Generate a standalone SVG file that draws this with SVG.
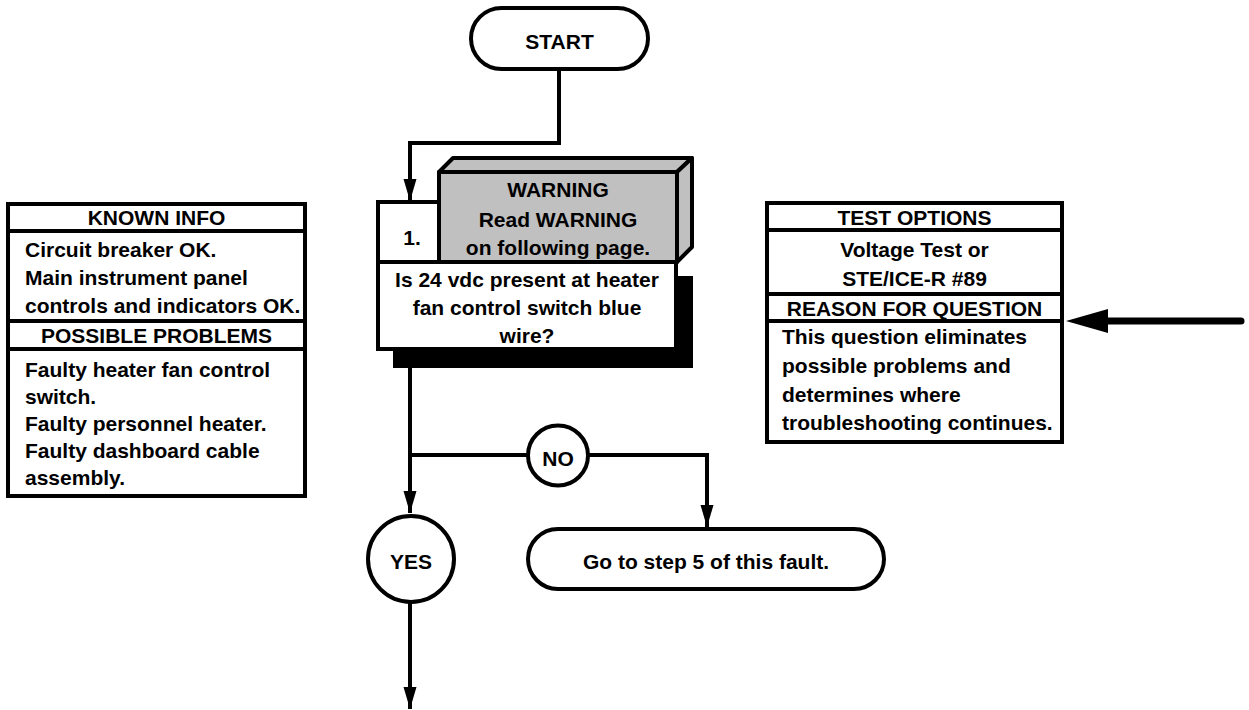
<svg xmlns="http://www.w3.org/2000/svg" width="1249" height="710" viewBox="0 0 1249 710">
<defs>
<style>
text{font-family:"Liberation Sans",Arial,sans-serif;font-weight:bold;font-size:21px;fill:#000}
.c{text-anchor:middle}
.box{fill:#fff;stroke:#000;stroke-width:4}
.ln{fill:none;stroke:#000;stroke-width:4}
.gray{fill:#c0c0c0;stroke:#000;stroke-width:4;stroke-linejoin:round}
</style>
<marker id="ah" markerUnits="userSpaceOnUse" markerWidth="24" markerHeight="14" refX="22" refY="6.5" orient="auto">
<path d="M0,0 L22,6.5 L0,13 z" fill="#000"/>
</marker>
</defs>
<rect width="1249" height="710" fill="#fff"/>

<g id="connectors">
<path class="ln" d="M559,69 V143 H410 V201" marker-end="url(#ah)"/>
<path class="ln" d="M410,349 V513" marker-end="url(#ah)"/>
<path class="ln" d="M410,455 H528"/>
<path class="ln" d="M588,455 H707 V527" marker-end="url(#ah)"/>
<path class="ln" d="M410,602 V709" marker-end="url(#ah)"/>
<path d="M1241,321 H1100" stroke="#000" stroke-width="7" stroke-linecap="round" fill="none"/>
<polygon points="1066,321 1108,309 1108,333" fill="#000"/>
</g>

<g id="start">
<rect class="box" x="471" y="8" width="177" height="61" rx="30.5"/>
<text class="c" x="559.5" y="49">START</text>
</g>

<g id="step1">
<rect x="393" y="276" width="300" height="92" fill="#000"/>
<rect class="box" x="378" y="262" width="298" height="87"/>
<text class="c" x="527" y="287">Is 24 vdc present at heater</text>
<text class="c" x="527" y="315">fan control switch blue</text>
<text class="c" x="527" y="343">wire?</text>
</g>

<g id="warning">
<polygon class="gray" points="439,172 453,158 692,158 677,172"/>
<polygon class="gray" points="677,172 692,158 692,247 677,262"/>
<rect class="gray" x="439" y="172" width="238" height="90"/>
<text class="c" x="558" y="197">WARNING</text>
<text class="c" x="558" y="227">Read WARNING</text>
<text class="c" x="558" y="255">on following page.</text>
</g>

<g id="step-number">
<rect class="box" x="378" y="202" width="61" height="60"/>
<text class="c" x="412" y="245">1.</text>
</g>

<g id="known-info">
<rect class="box" x="8" y="204" width="297" height="292"/>
<line class="ln" x1="8" y1="231" x2="305" y2="231"/>
<line class="ln" x1="8" y1="321" x2="305" y2="321"/>
<line class="ln" x1="8" y1="349" x2="305" y2="349"/>
<text class="c" x="156.5" y="225">KNOWN INFO</text>
<text x="25" y="257">Circuit breaker OK.</text>
<text x="25" y="285">Main instrument panel</text>
<text x="25" y="313">controls and indicators OK.</text>
<text class="c" x="156.5" y="343">POSSIBLE PROBLEMS</text>
<text x="25" y="377">Faulty heater fan control</text>
<text x="25" y="404">switch.</text>
<text x="25" y="431">Faulty personnel heater.</text>
<text x="25" y="458">Faulty dashboard cable</text>
<text x="25" y="485">assembly.</text>
</g>

<g id="test-options">
<rect class="box" x="767" y="203" width="295" height="239"/>
<line class="ln" x1="767" y1="230" x2="1062" y2="230"/>
<line class="ln" x1="767" y1="294" x2="1062" y2="294"/>
<line class="ln" x1="767" y1="321" x2="1062" y2="321"/>
<text class="c" x="914.5" y="225">TEST OPTIONS</text>
<text class="c" x="914.5" y="257">Voltage Test or</text>
<text class="c" x="914.5" y="286">STE/ICE-R #89</text>
<text class="c" x="914.5" y="316">REASON FOR QUESTION</text>
<text x="782" y="344">This question eliminates</text>
<text x="782" y="373">possible problems and</text>
<text x="782" y="402">determines where</text>
<text x="782" y="430">troubleshooting continues.</text>
</g>

<g id="no">
<circle class="box" cx="558" cy="455.5" r="30"/>
<text class="c" x="558" y="466">NO</text>
</g>

<g id="yes">
<circle class="box" cx="411" cy="559" r="43"/>
<text class="c" x="411" y="569">YES</text>
</g>

<g id="goto">
<rect class="box" x="528" y="529" width="356" height="60" rx="30"/>
<text class="c" x="706" y="569">Go to step 5 of this fault.</text>
</g>
</svg>
